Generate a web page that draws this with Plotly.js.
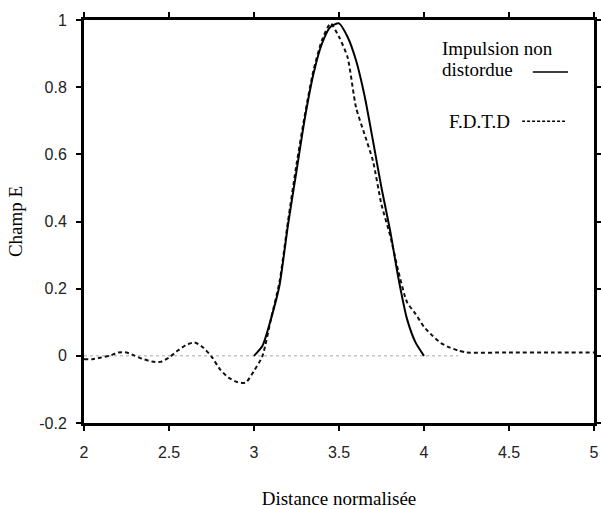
<!DOCTYPE html>
<html>
<head>
<meta charset="utf-8">
<script src="https://cdn.plot.ly/plotly-3.0.1.min.js"></script>
<style>html,body{margin:0;padding:0;background:#fff;}#chart{width:601px;height:509px;}</style>
</head>
<body>
<div id="chart"></div>
<script>
// Impulsion non distordue (solid)
const pulseX = [3.0, 3.05, 3.1, 3.15, 3.2, 3.25, 3.3, 3.35, 3.4, 3.45, 3.5, 3.55, 3.6, 3.65, 3.7, 3.75, 3.8, 3.85, 3.9, 3.95, 4.0];
const pulseY = [0.0, 0.03, 0.11, 0.21, 0.39, 0.55, 0.71, 0.84, 0.93, 0.98, 0.99, 0.95, 0.88, 0.775, 0.64, 0.50, 0.375, 0.23, 0.11, 0.04, 0.0];

// F.D.T.D (dashed)
const fdtdX = [2.0, 2.05, 2.1, 2.15, 2.2, 2.25, 2.3, 2.35, 2.4, 2.45, 2.5, 2.55, 2.6, 2.65, 2.7, 2.75, 2.8, 2.85, 2.9, 2.95, 3.0,
               3.05, 3.1, 3.15, 3.2, 3.25, 3.3, 3.35, 3.4, 3.45, 3.5, 3.55, 3.6, 3.65, 3.7, 3.75, 3.8, 3.85, 3.9, 3.95, 4.0,
               4.05, 4.1, 4.15, 4.2, 4.25, 4.5, 4.75, 5.0];
const fdtdY = [-0.01, -0.01, -0.005, 0.0, 0.01, 0.01, 0.0, -0.01, -0.017, -0.018, -0.005, 0.015, 0.032, 0.04, 0.025, -0.002, -0.04, -0.065, -0.078, -0.08, -0.045,
               0.0, 0.11, 0.22, 0.40, 0.57, 0.72, 0.85, 0.94, 0.99, 0.95, 0.89, 0.74, 0.66, 0.58, 0.45, 0.36, 0.25, 0.16, 0.125, 0.086,
               0.06, 0.038, 0.025, 0.016, 0.01, 0.01, 0.01, 0.01];

// faint zero line of the undistorted pulse
const baseX = [2.0, 4.2];
const baseY = [0.0, 0.0];

const xTickVals = [2, 2.5, 3, 3.5, 4, 4.5, 5];
const xTickText = ['2', '2.5', '3', '3.5', '4', '4.5', '5'];
const yTickVals = [-0.2, 0, 0.2, 0.4, 0.6, 0.8, 1];
const yTickText = ['-0.2', '0', '0.2', '0.4', '0.6', '0.8', '1'];

const serif = 'Liberation Serif, Times New Roman, serif';
const sans = 'Liberation Sans, Arial, sans-serif';

const traces = [
  {x: baseX, y: baseY, mode: 'lines', line: {color: '#c4c4c4', width: 1.5, dash: 'dot'}, showlegend: false, hoverinfo: 'skip'},
  {x: fdtdX, y: fdtdY, mode: 'lines', name: 'F.D.T.D', line: {color: '#111', width: 2, dash: '4px,3px', shape: 'spline', smoothing: 0.6}, showlegend: false},
  {x: pulseX, y: pulseY, mode: 'lines', name: 'Impulsion non distordue', line: {color: '#000', width: 2, shape: 'spline', smoothing: 0.6}, showlegend: false}
];

const layout = {
  width: 601, height: 509,
  margin: {l: 84, r: 7, t: 20, b: 86},
  paper_bgcolor: '#fff', plot_bgcolor: '#fff',
  showlegend: false,
  xaxis: {
    range: [2, 5], tickvals: xTickVals, ticktext: xTickText,
    showgrid: false, zeroline: false,
    showline: true, linecolor: '#000', linewidth: 3, mirror: 'ticks',
    ticks: 'outside', ticklen: 5, tickwidth: 2, tickcolor: '#000',
    ticklabelstandoff: 8,
    tickfont: {family: sans, size: 16, color: '#222'},
    title: {text: 'Distance normalisée', font: {family: serif, size: 19, color: '#000'}, standoff: 34}
  },
  yaxis: {
    range: [-0.2, 1], tickvals: yTickVals, ticktext: yTickText,
    showgrid: false, zeroline: false,
    showline: true, linecolor: '#000', linewidth: 3, mirror: 'ticks',
    ticks: 'outside', ticklen: 5, tickwidth: 2, tickcolor: '#000',
    ticklabelstandoff: 6,
    tickfont: {family: sans, size: 16, color: '#222'},
    title: {text: 'Champ E', font: {family: serif, size: 19, color: '#000'}, standoff: 12}
  },
  annotations: [
    {xref: 'paper', yref: 'paper', x: 0.698, y: 0.930, xanchor: 'left', yanchor: 'middle', showarrow: false,
     text: 'Impulsion non', font: {family: serif, size: 19, color: '#000'}},
    {xref: 'paper', yref: 'paper', x: 0.698, y: 0.876, xanchor: 'left', yanchor: 'middle', showarrow: false,
     text: 'distordue', font: {family: serif, size: 19, color: '#000'}},
    {xref: 'paper', yref: 'paper', x: 0.712, y: 0.749, xanchor: 'left', yanchor: 'middle', showarrow: false,
     text: 'F.D.T.D', font: {family: serif, size: 19, color: '#000'}}
  ],
  shapes: [
    {type: 'line', xref: 'paper', yref: 'paper', x0: 0.880, x1: 0.949, y0: 0.871, y1: 0.871, line: {color: '#000', width: 1.5}},
    {type: 'line', xref: 'paper', yref: 'paper', x0: 0.859, x1: 0.943, y0: 0.749, y1: 0.749, line: {color: '#000', width: 1.5, dash: '3px,2px'}}
  ]
};

Plotly.newPlot('chart', traces, layout, {displayModeBar: false, staticPlot: true});
</script>
</body>
</html>
